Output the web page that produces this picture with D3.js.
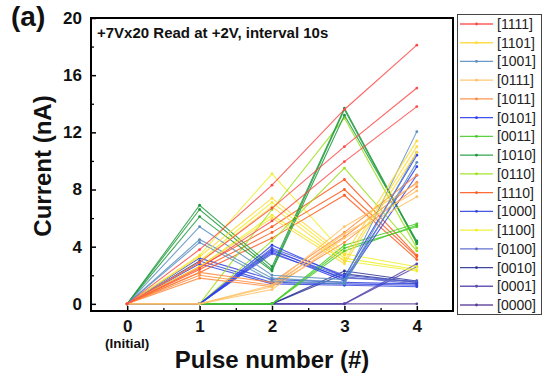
<!DOCTYPE html>
<html>
<head>
<meta charset="utf-8">
<script src="https://cdn.jsdelivr.net/npm/d3@7"></script>
<style>
  html, body { margin: 0; padding: 0; background: #fff; }
  svg { display: block; font-family: "Liberation Sans", Arial, sans-serif; }
</style>
</head>
<body>
<svg id="chart" width="545" height="383"></svg>
<script>
// Pulse steps on the x axis
const pulses = [0, 1, 2, 3, 4];
const xTickLabels = ["0", "1", "2", "3", "4"];
const yTicks = [0, 4, 8, 12, 16, 20];

// Programming patterns (legend order) and their colours
const patterns = ["[1111]", "[1101]", "[1001]", "[0111]", "[1011]", "[0101]", "[0011]", "[1010]",
                  "[0110]", "[1110]", "[1000]", "[1100]", "[0100]", "[0010]", "[0001]", "[0000]"];
const colors = ["#ff4a4a", "#ffd83a", "#5a8fbf", "#ffc266", "#ff8a3d", "#2d3ff0", "#48cc28", "#1e9a3c",
                "#9de01a", "#ff5a1f", "#3344dd", "#eeee2a", "#5560cc", "#2a3399", "#5a48ad", "#5c3d99"];

// Read current (nA) per device, one array per pattern
const c1111 = [[0, 3.8, 8.3, 13.6, 18.1], [0, 2.9, 6.7, 11.0, 15.1], [0, 2.5, 5.8, 9.95, 13.8]];
const c1101 = [[0, 3.3, 7.4, 3.4, 11.4], [0, 2.9, 6.8, 3.0, 11.0], [0, 2.6, 6.0, 2.8, 10.6]];
const c1001 = [[0, 5.4, 2.0, 1.7, 12.05], [0, 4.5, 1.8, 1.5, 10.6], [0, 4.3, 1.6, 1.4, 9.9]];
const c0111 = [[0, 0, 1.3, 5.4, 8.4], [0, 0, 1.2, 4.9, 7.9], [0, 0, 1.0, 4.6, 7.5]];
const c1011 = [[0, 2.2, 1.5, 5.0, 9.0], [0, 2.0, 1.3, 4.7, 8.5], [0, 1.8, 1.2, 4.3, 8.2]];
const c0101 = [[0, 0, 4.1, 1.9, 10.4], [0, 0, 3.8, 1.7, 9.6], [0, 0, 3.6, 1.6, 9.0]];
const c0011 = [[0, 0, 0, 4.1, 5.6], [0, 0, 0, 3.9, 5.4], [0, 0, 0, 3.7, 5.5]];
const c1010 = [[0, 6.9, 2.6, 13.7, 4.3], [0, 6.6, 2.4, 13.6, 4.2], [0, 6.1, 2.3, 13.2, 4.4]];
const c0110 = [[0, 0, 6.6, 13.0, 3.9], [0, 0, 4.4, 9.5, 3.7]];
const c1110 = [[0, 2.6, 5.4, 8.7, 3.4], [0, 2.4, 5.0, 8.0, 3.3], [0, 2.2, 4.6, 7.6, 3.1]];
const c1000 = [[0, 3.2, 1.7, 1.5, 1.4], [0, 3.0, 1.5, 1.4, 1.3], [0, 2.8, 1.4, 1.3, 1.2]];
const c1100 = [[0, 3.4, 9.1, 3.5, 2.6], [0, 3.0, 7.1, 3.2, 2.4], [0, 2.6, 6.2, 3.0, 2.3]];
const c0100 = [[0, 0, 3.9, 2.0, 1.5], [0, 0, 3.7, 1.9, 1.4], [0, 0, 3.5, 1.8, 1.6]];
const c0010 = [[0, 0, 0, 2.3, 1.6], [0, 0, 0, 2.1, 1.5]];
const c0001 = [[0, 0, 0, 0, 2.8], [0, 0, 0, 0, 2.6]];
const c0000 = [[0, 0, 0, 0, 0]];

const currents = [c1111, c1101, c1001, c0111, c1011, c0101, c0011, c1010,
                  c0110, c1110, c1000, c1100, c0100, c0010, c0001, c0000];

const svg = d3.select("#chart");
const frame = { left: 91, right: 453, top: 18, bottom: 311 };

const x = d3.scaleLinear().domain([-0.5, 4.5]).range([frame.left, frame.right]);
const y = d3.scaleLinear().domain([-0.5, 20]).range([frame.bottom, frame.top]);

// Series: drawn from the last legend entry up so [1111] ends on top
const plot = svg.append("g");
const line = d3.line().x((d, i) => x(pulses[i])).y(d => y(d));
for (let p = patterns.length - 1; p >= 0; p--) {
  const g = plot.append("g");
  currents[p].forEach(dev => {
    g.append("path")
      .attr("d", line(dev))
      .attr("fill", "none")
      .attr("stroke", colors[p])
      .attr("stroke-width", 1.1)
      .attr("stroke-opacity", 0.85);
    g.selectAll(null).data(dev).enter().append("circle")
      .attr("cx", (d, i) => x(pulses[i]))
      .attr("cy", d => y(d))
      .attr("r", 1.4)
      .attr("fill", colors[p]);
  });
}

// Axes with inward ticks
const yAxis = d3.axisLeft(y).tickValues(yTicks).tickSize(-5).tickPadding(9).tickFormat(d3.format("d"));
const gy = svg.append("g").attr("transform", `translate(${frame.left},0)`).call(yAxis);
gy.select(".domain").remove();
gy.selectAll(".tick line").attr("stroke-width", 1.5);
gy.selectAll("text").attr("font-size", 17).attr("font-weight", "bold").attr("fill", "#111");

const gyMinor = svg.append("g").attr("transform", `translate(${frame.left},0)`)
  .call(d3.axisLeft(y).tickValues([2, 6, 10, 14, 18]).tickSize(-3).tickFormat(""));
gyMinor.select(".domain").remove();
gyMinor.selectAll(".tick line").attr("stroke-width", 1.3);

const xAxis = d3.axisBottom(x).tickValues(pulses).tickSize(-5).tickPadding(9)
  .tickFormat((d, i) => xTickLabels[i]);
const gx = svg.append("g").attr("transform", `translate(0,${frame.bottom})`).call(xAxis);
gx.select(".domain").remove();
gx.selectAll(".tick line").attr("stroke-width", 1.5);
gx.selectAll("text").attr("font-size", 17).attr("font-weight", "bold").attr("fill", "#111");

const gxMinor = svg.append("g").attr("transform", `translate(0,${frame.bottom})`)
  .call(d3.axisBottom(x).tickValues([0.5, 1.5, 2.5, 3.5]).tickSize(-3).tickFormat(""));
gxMinor.select(".domain").remove();
gxMinor.selectAll(".tick line").attr("stroke-width", 1.3);

// Plot frame
svg.append("rect")
  .attr("x", frame.left).attr("y", frame.top)
  .attr("width", frame.right - frame.left).attr("height", frame.bottom - frame.top)
  .attr("fill", "none").attr("stroke", "#000").attr("stroke-width", 2);

// Labels
svg.append("text").attr("x", x(0)).attr("y", 348).attr("text-anchor", "middle")
  .attr("font-size", 13.5).attr("font-weight", "bold").attr("fill", "#111").text("(Initial)");
svg.append("text").attr("x", 272).attr("y", 368).attr("text-anchor", "middle")
  .attr("font-size", 24).attr("font-weight", "bold").attr("fill", "#111").text("Pulse number (#)");
svg.append("text").attr("transform", "translate(51,166) rotate(-90)").attr("text-anchor", "middle")
  .attr("font-size", 24).attr("font-weight", "bold").attr("fill", "#111").text("Current (nA)");
svg.append("text").attr("x", 11).attr("y", 26)
  .attr("font-size", 28).attr("font-weight", "bold").attr("fill", "#111").text("(a)");
svg.append("text").attr("x", 97).attr("y", 38)
  .attr("font-size", 15).attr("font-weight", "bold").attr("fill", "#111")
  .text("+7Vx20 Read at +2V, interval 10s");

// Legend
const legend = svg.append("g");
legend.append("rect").attr("x", 457.5).attr("y", 14.5).attr("width", 84).attr("height", 300)
  .attr("fill", "#fff").attr("stroke", "#444").attr("stroke-width", 1);
const rowY = d3.scalePoint().domain(patterns).range([24, 305]);
patterns.forEach((p, i) => {
  const yy = rowY(p);
  legend.append("line").attr("x1", 460).attr("x2", 493).attr("y1", yy).attr("y2", yy)
    .attr("stroke", colors[i]).attr("stroke-width", 1.3).attr("stroke-opacity", 0.9);
  legend.append("circle").attr("cx", 476.5).attr("cy", yy).attr("r", 1.4).attr("fill", colors[i]);
  legend.append("text").attr("x", 497).attr("y", yy + 5)
    .attr("font-size", 14).attr("fill", "#222").text(p);
});
</script>
</body>
</html>
